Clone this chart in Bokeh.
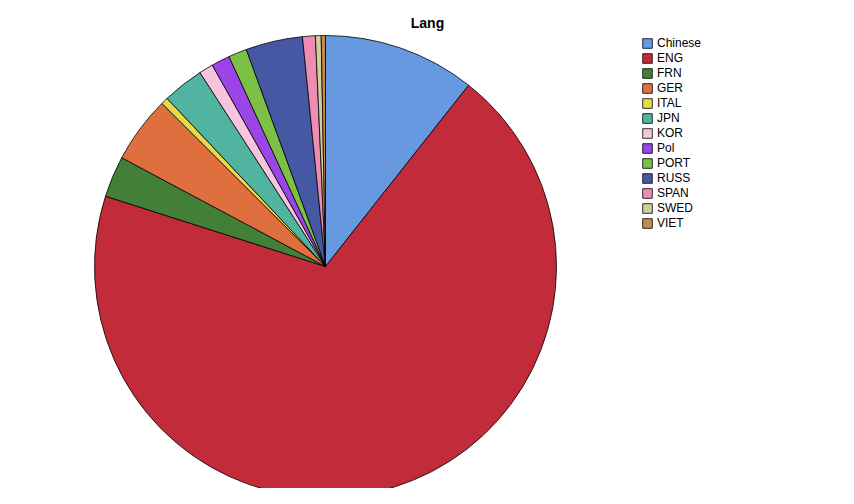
import numpy as np
from bokeh.plotting import figure
from bokeh.models import Legend, LegendItem, ColumnDataSource
from bokeh.embed import file_html
from bokeh.resources import INLINE

langs = ["Chinese", "ENG", "FRN", "GER", "ITAL", "JPN", "KOR", "Pol", "PORT", "RUSS", "SPAN", "SWED", "VIET"]
counts = [10.7, 69.7, 2.9, 4.7, 0.5, 2.9, 1.0, 1.3, 1.3, 4.0, 0.9, 0.4, 0.3]
colors = ["#6699e0", "#c22b3a", "#437f37", "#e06f40", "#e8d84a", "#50b4a0", "#f6c4dc",
          "#9b45e6", "#7cc045", "#4658a4", "#ef8cb4", "#d4ce9a", "#c68a4c"]

W, H = 838, 488
frac = np.array(counts) / sum(counts)
ends = np.cumsum(frac) * 2 * np.pi
starts = ends - frac * 2 * np.pi

p = figure(width=W, height=H, x_range=(0, W), y_range=(0, H), output_backend="svg",
           toolbar_location=None, min_border=0)
p.axis.visible = False
p.grid.visible = False
p.outline_line_color = None

items = []
for i, name in enumerate(langs):
    src = ColumnDataSource(dict(x=[325], y=[222], s=[np.pi / 2 - starts[i]], e=[np.pi / 2 - ends[i]]))
    r = p.wedge(x="x", y="y", radius=231, start_angle="s", end_angle="e", direction="clock",
                fill_color=colors[i], line_color="black", line_width=0.8, source=src)
    items.append(LegendItem(label=name, renderers=[r]))

p.text(x=[427], y=[466], text=["Lang"], text_align="center", text_baseline="middle",
       text_font_style="bold", text_font_size="14px")

leg = Legend(items=items, location=(641, 258), glyph_height=12, glyph_width=12,
             label_height=14, spacing=1, padding=0, margin=0, border_line_color=None,
             background_fill_alpha=0, label_text_font_size="12px", label_standoff=4,
             label_text_color="black")
p.add_layout(leg)

open("out.html", "w").write(file_html(p, INLINE))
